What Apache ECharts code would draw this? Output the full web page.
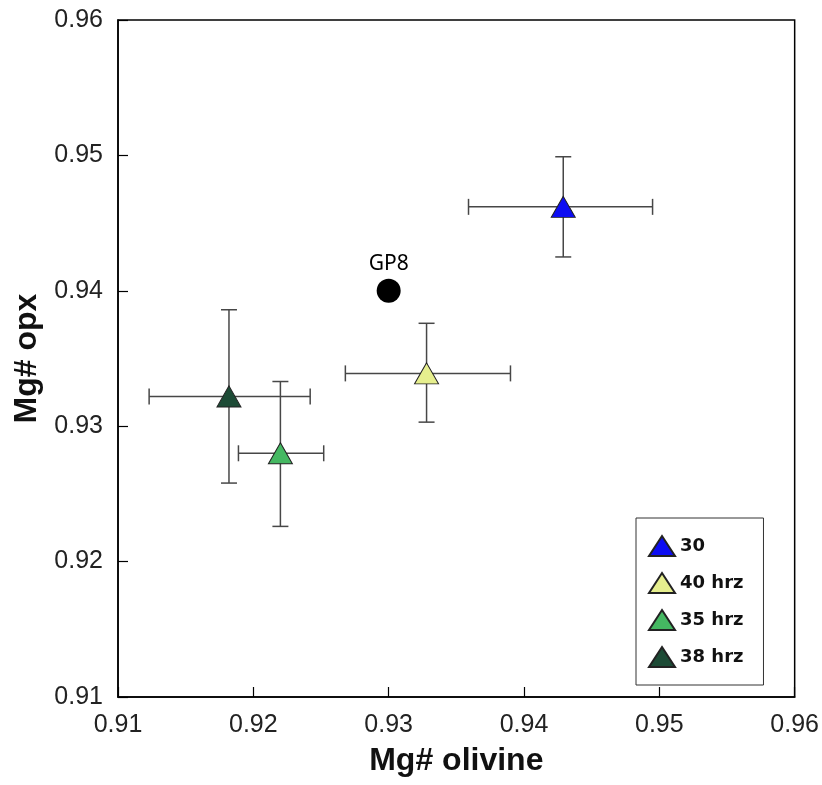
<!DOCTYPE html>
<html>
<head>
<meta charset="utf-8">
<script src="https://cdn.jsdelivr.net/npm/echarts@6/dist/echarts.min.js"></script>
<style>
html, body {margin: 0; padding: 0; background: #fff;}
#main {width: 822px; height: 785px;}
</style>
</head>
<body>
<div id="main"></div>
<script>
// samples (legend order)
var names = ['30', '40 hrz', '35 hrz', '38 hrz'];
var olivine = [0.9429, 0.9328, 0.9220, 0.9182];
var opx = [0.9462, 0.9339, 0.9280, 0.9322];
var olivineLo = [0.9359, 0.9268, 0.9189, 0.9123];
var olivineHi = [0.9495, 0.9390, 0.9252, 0.9242];
var opxLo = [0.9425, 0.9303, 0.9226, 0.9258];
var opxHi = [0.9499, 0.9376, 0.9333, 0.9386];
// reference point
var refName = 'GP8';
var refPoint = [0.930, 0.940];
var ticks = [0.91, 0.92, 0.93, 0.94, 0.95, 0.96];

var fills = ['#0d0df2', '#e6ef8e', '#45b862', '#1d4b36'];

var my_chart = echarts.init(document.getElementById('main'));

var barData = [];
for (var i = 0; i < names.length; i++) {
    barData.push([olivine[i], opx[i], olivineLo[i], olivineHi[i], opxLo[i], opxHi[i]]);
}

function renderBars(params, api) {
    var lo_x = api.coord([api.value(2), api.value(1)]);
    var hi_x = api.coord([api.value(3), api.value(1)]);
    var lo_y = api.coord([api.value(0), api.value(4)]);
    var hi_y = api.coord([api.value(0), api.value(5)]);
    var cap = 8;
    var st = {stroke: '#474747', lineWidth: 1.5};
    function seg(x1, y1, x2, y2) {
        return {type: 'line', shape: {x1: x1, y1: y1, x2: x2, y2: y2}, style: st};
    }
    return {
        type: 'group',
        children: [
            seg(lo_x[0], lo_x[1], hi_x[0], hi_x[1]),
            seg(lo_x[0], lo_x[1] - cap, lo_x[0], lo_x[1] + cap),
            seg(hi_x[0], hi_x[1] - cap, hi_x[0], hi_x[1] + cap),
            seg(lo_y[0], lo_y[1], hi_y[0], hi_y[1]),
            seg(lo_y[0] - cap, lo_y[1], lo_y[0] + cap, lo_y[1]),
            seg(hi_y[0] - cap, hi_y[1], hi_y[0] + cap, hi_y[1])
        ]
    };
}

var series = [{
    type: 'custom',
    renderItem: renderBars,
    data: barData,
    encode: {x: 0, y: 1},
    z: 1,
    silent: true
}];

names.forEach(function (n, i) {
    series.push({
        name: n,
        type: 'scatter',
        symbol: 'triangle',
        symbolSize: [24, 21],
        data: [[olivine[i], opx[i]]],
        itemStyle: {color: fills[i], borderColor: '#222', borderWidth: 1, opacity: 1},
        z: 3
    });
});

series.push({
    name: refName,
    type: 'scatter',
    symbol: 'circle',
    symbolSize: 24,
    data: [refPoint],
    itemStyle: {color: '#000', opacity: 1},
    label: {
        show: true,
        position: 'top',
        distance: 4,
        formatter: refName,
        color: '#000',
        fontFamily: 'Noto Sans',
        fontSize: 21
    },
    z: 3
});

function axisCommon(name) {
    return {
        type: 'value',
        min: ticks[0],
        max: ticks[ticks.length - 1],
        interval: 0.01,
        name: name,
        nameLocation: 'middle',
        nameTextStyle: {
            fontFamily: 'Liberation Sans',
            fontWeight: 'bold',
            fontSize: 32,
            color: '#111'
        },
        axisLine: {show: true, onZero: false, lineStyle: {color: '#000', width: 1.5}},
        axisTick: {show: true, inside: true, length: 10, lineStyle: {color: '#000', width: 1.2}},
        axisLabel: {
            fontFamily: 'Liberation Sans',
            fontSize: 25,
            color: '#222',
            showMinLabel: true,
            showMaxLabel: true,
            formatter: function (v) { return v.toFixed(2); }
        },
        splitLine: {show: false}
    };
}

var xAxis = axisCommon('Mg# olivine');
xAxis.nameGap = 48;
xAxis.axisLabel.margin = 16;
var yAxis = axisCommon('Mg# opx');
yAxis.nameGap = 72;
yAxis.axisLabel.margin = 15;

var option = {
    animation: false,
    backgroundColor: '#fff',
    grid: {
        left: 118,
        right: 27,
        top: 20,
        bottom: 88,
        show: true,
        borderColor: '#000',
        borderWidth: 1.5
    },
    xAxis: xAxis,
    yAxis: yAxis,
    legend: {
        data: names,
        orient: 'vertical',
        left: 636,
        top: 518,
        icon: 'triangle',
        itemWidth: 26,
        itemHeight: 20,
        itemGap: 15,
        padding: [17, 20, 17, 12],
        borderColor: '#333',
        borderWidth: 1,
        borderRadius: 0,
        textStyle: {
            fontFamily: 'DejaVu Sans',
            fontWeight: 'bold',
            fontSize: 18,
            color: '#111'
        }
    },
    series: series
};

my_chart.setOption(option);
</script>
</body>
</html>
